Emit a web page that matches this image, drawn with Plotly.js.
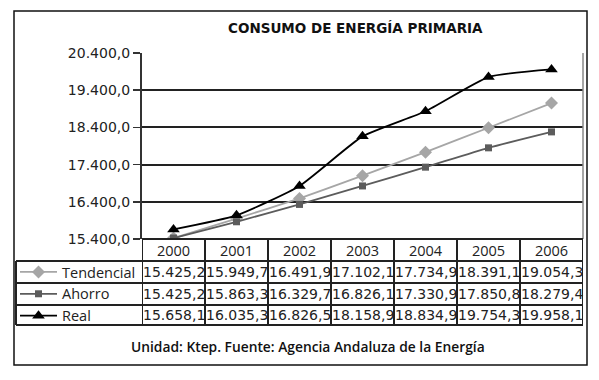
<!DOCTYPE html>
<html><head><meta charset="utf-8">
<script src="https://cdn.plot.ly/plotly-3.0.1.min.js"></script>
<style>html,body{margin:0;padding:0;background:#fff}#c{width:599px;height:380px}</style>
</head><body><div id="c"></div>
<script>
const years = ["2000","2001","2002","2003","2004","2005","2006"];
const tendencial = [15425.2,15949.7,16491.9,17102.1,17734.9,18391.1,19054.3];
const ahorro = [15425.2,15863.3,16329.7,16826.1,17330.9,17850.8,18279.4];
const real = [15658.1,16035.3,16826.5,18158.9,18834.9,19754.3,19958.1];
const seriesNames = ["Tendencial","Ahorro","Real"];
const yTicks = [15400,16400,17400,18400,19400,20400];
const titleText = "CONSUMO DE ENERGÍA PRIMARIA";
const footText = "Unidad: Ktep. Fuente: Agencia Andaluza de la Energía";

const W=599,H=380;
const px = x => x/W, py = y => 1 - y/H;
function fmt(v){
  const s = v.toFixed(1).split('.');
  return s[0].replace(/\B(?=(\d{3})+(?!\d))/g,'.') + ',' + s[1];
}
const seriesData=[tendencial,ahorro,real];
const styles=[
  {color:'#a6a6a6',symbol:'diamond',size:10},
  {color:'#5c5c5c',symbol:'square',size:7},
  {color:'#000000',symbol:'triangle-up',size:11}
];
const traces = seriesData.map((d,i)=>({
  type:'scatter',mode:'lines+markers',name:seriesNames[i],x:years,y:d,
  line:{color:styles[i].color,width:1.8,shape:'spline',smoothing:0.5},
  marker:{symbol:styles[i].symbol,size:styles[i].size,color:styles[i].color}
}));

const yTop=53,yBot=239,rows=[239,261,283,305,325];
const shapes=[];
const ann=[];
shapes.push({type:'rect',xref:'paper',yref:'paper',x0:px(14),x1:px(587),y0:py(365),y1:py(11),line:{color:'#111',width:1.5}});
shapes.push({type:'line',xref:'paper',yref:'paper',x0:px(583),x1:px(583),y0:py(yBot),y1:py(yTop),line:{color:'#888',width:1.5}});
rows.forEach((r,i)=>{
  shapes.push({type:'line',xref:'paper',yref:'paper',x0:i===0?px(142):px(16),x1:px(583),y0:py(r),y1:py(r),line:{color:'#222',width:2}});
});
shapes.push({type:'line',xref:'paper',yref:'paper',x0:px(16),x1:px(16),y0:py(261),y1:py(325),line:{color:'#222',width:2}});
for(let i=0;i<=years.length;i++){
  shapes.push({type:'line',xref:'x',yref:'paper',x0:i-0.5,x1:i-0.5,y0:py(325),y1:py(239),line:{color:'#222',width:2}});
}
years.forEach((y,j)=>ann.push({xref:'x',yref:'paper',x:j,y:py(250),xanchor:'center',yanchor:'middle',text:y,showarrow:false,font:{family:'Open Sans',size:14.5,color:'#222'}}));
const rowC=[272,294,315];
seriesData.forEach((d,si)=>{
  d.forEach((v,j)=>ann.push({xref:'x',yref:'paper',x:j,y:py(rowC[si]),xanchor:'center',yanchor:'middle',text:fmt(v),showarrow:false,font:{family:'DejaVu Sans',size:14,color:'#222'}}));
});
ann.push({xref:'paper',yref:'paper',x:px(355),y:py(28),xanchor:'center',yanchor:'middle',text:'<b>'+titleText+'</b>',showarrow:false,font:{family:'DejaVu Sans',size:13.5,color:'#111'}});
ann.push({xref:'paper',yref:'paper',x:px(308),y:py(346),xanchor:'center',yanchor:'middle',text:footText,showarrow:false,font:{family:'Open Sans',size:13.8,color:'#111',weight:600}});

const layout={
  width:W,height:H,margin:{l:0,r:0,t:0,b:0},paper_bgcolor:'#fff',plot_bgcolor:'#fff',
  separators:',.',
  showlegend:true,
  legend:{x:px(15),xanchor:'left',y:py(256),yanchor:'top',bgcolor:'rgba(0,0,0,0)',borderwidth:0,
    font:{family:'Open Sans',size:14.5,color:'#222'},itemwidth:37,tracegroupgap:0,traceorder:'normal'},
  xaxis:{type:'category',categoryarray:years,domain:[px(142),px(583)],range:[-0.5,6.5],
    showgrid:false,showticklabels:false,showline:false,zeroline:false,ticks:'',fixedrange:true},
  yaxis:{domain:[py(yBot),py(yTop)],range:[15400,20400],tickvals:yTicks,tickformat:',.1f',
    showgrid:true,gridcolor:'#222',gridwidth:2,showline:true,linecolor:'#333',linewidth:2,
    ticks:'outside',ticklen:7,tickcolor:'#333',tickwidth:1.5,
    tickfont:{family:'DejaVu Sans',size:14,color:'#222'},zeroline:false,fixedrange:true},
  shapes:shapes,annotations:ann
};
Plotly.newPlot('c',traces,layout,{staticPlot:true,displayModeBar:false});
</script></body></html>
